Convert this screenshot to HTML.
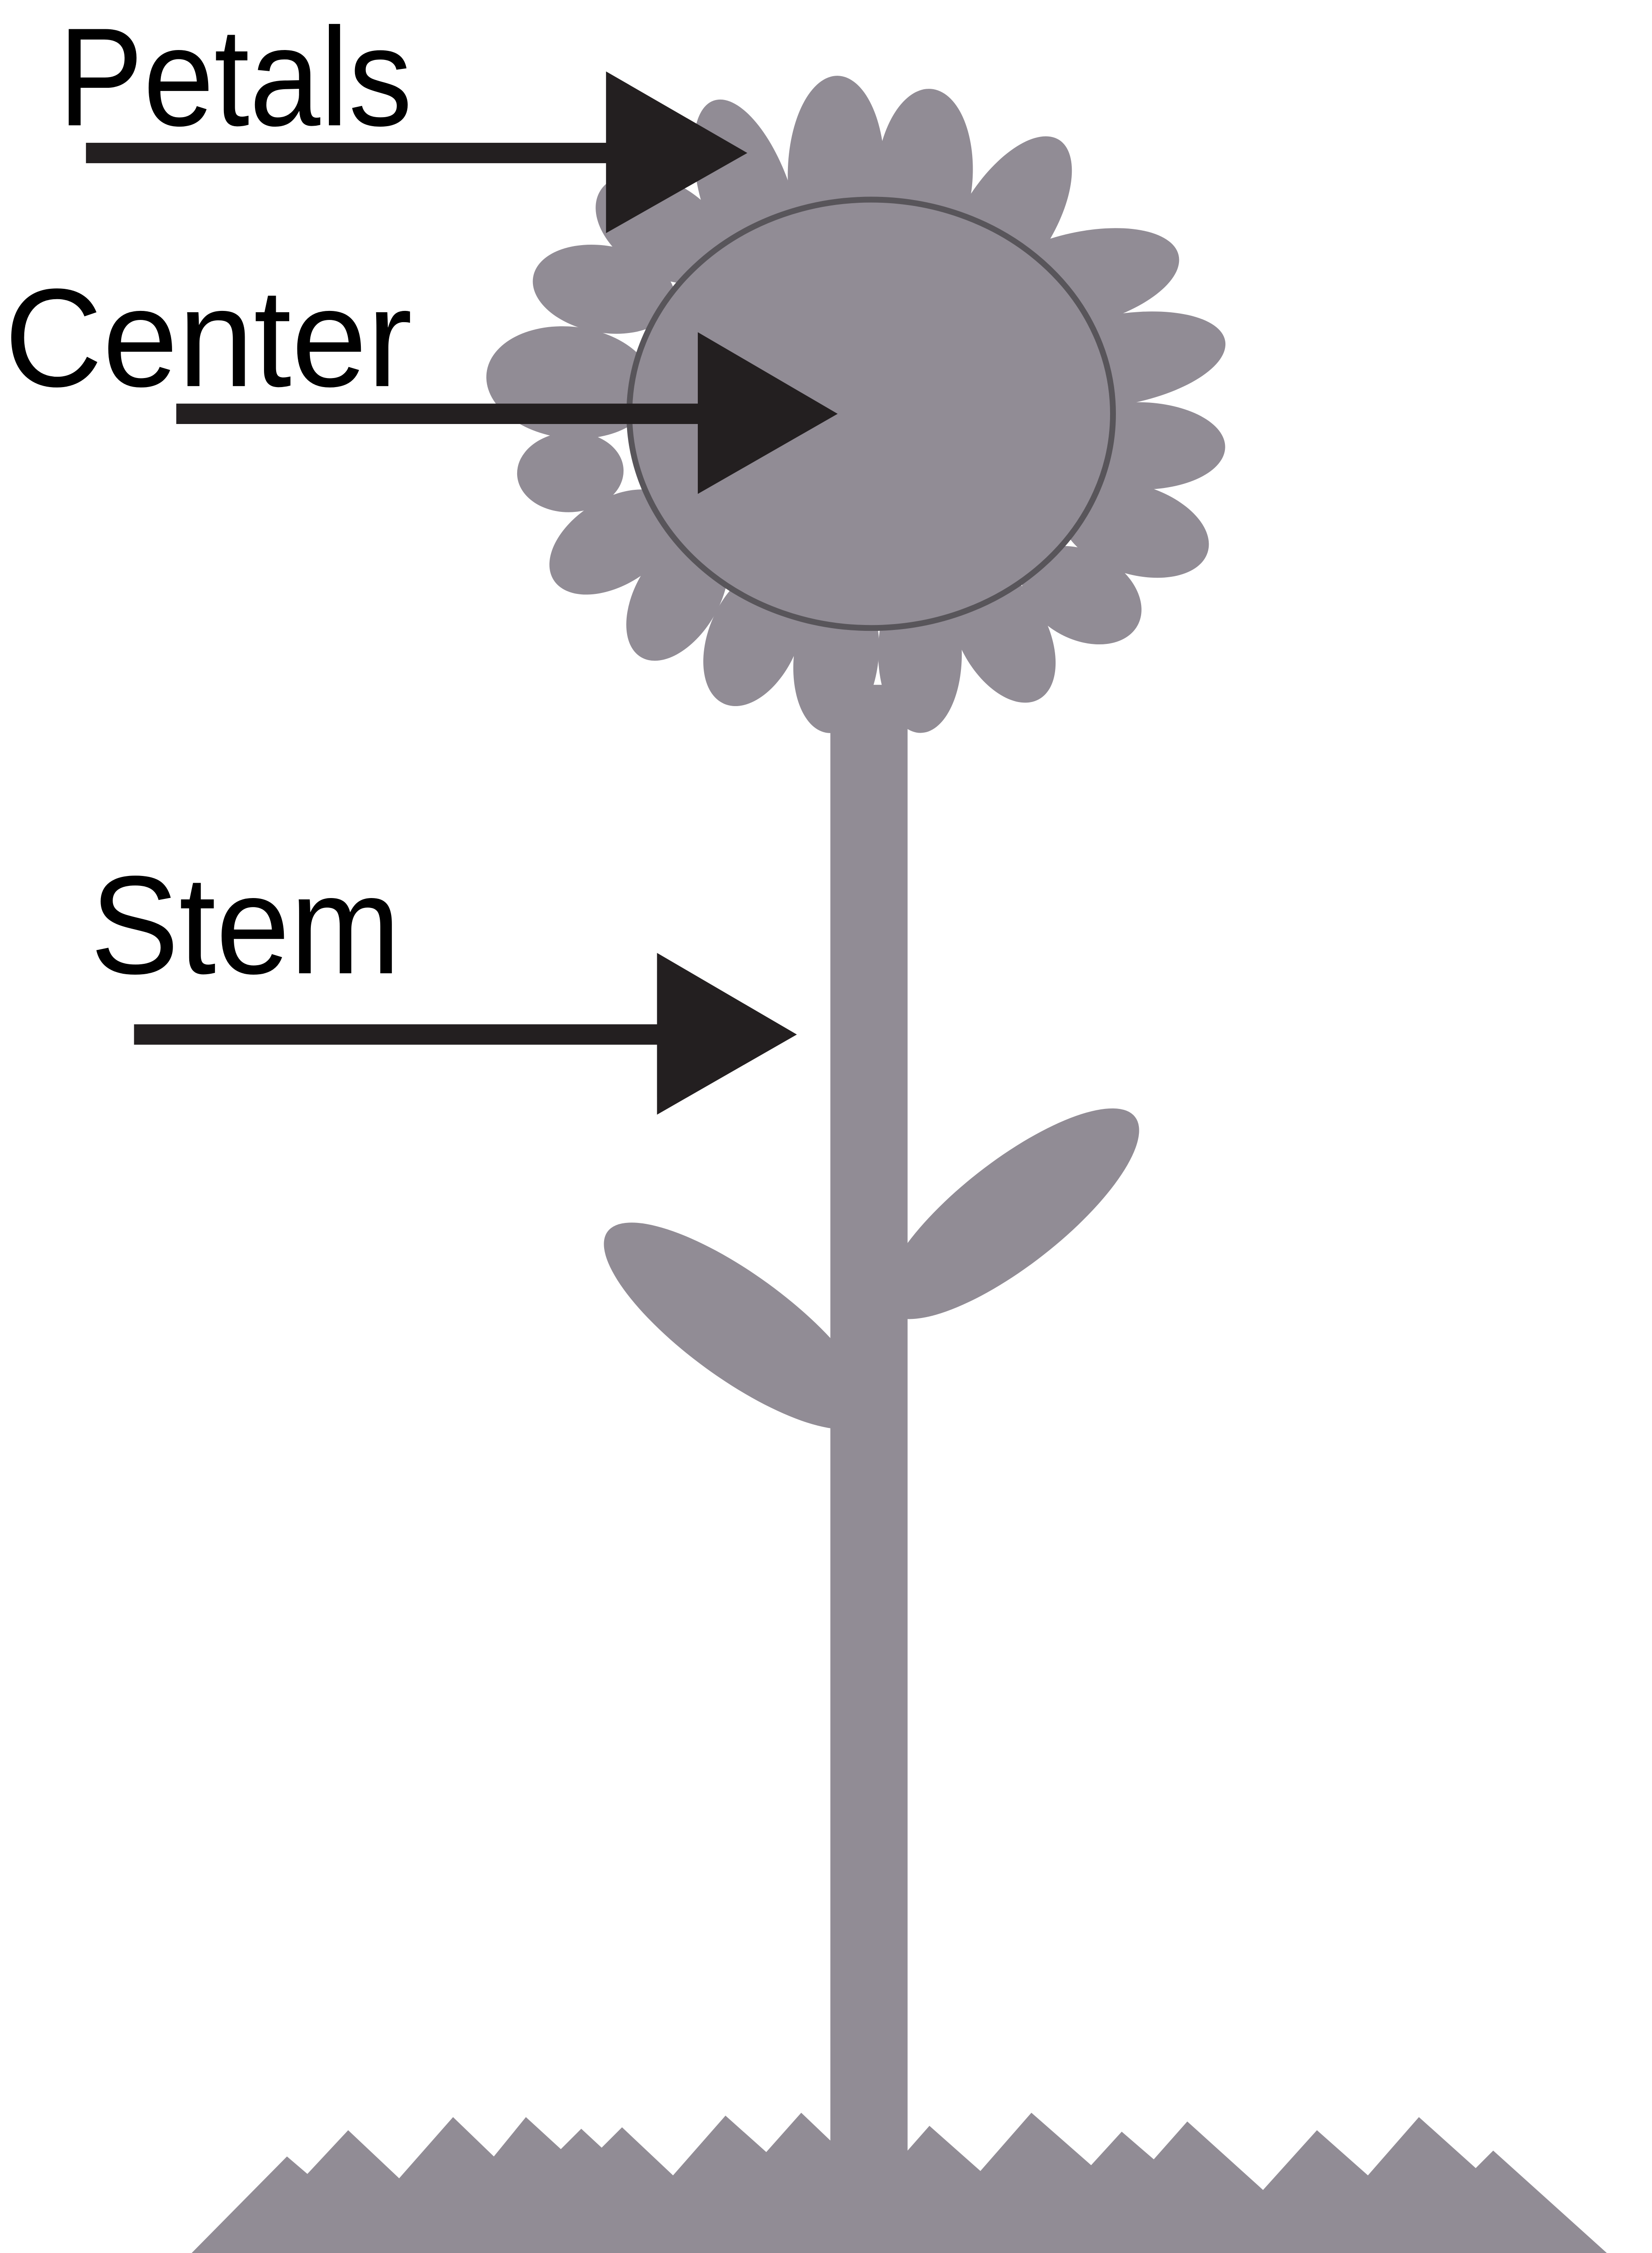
<!DOCTYPE html>
<html>
<head>
<meta charset="utf-8">
<style>
  html, body { margin: 0; padding: 0; background: #ffffff; }
  body { width: 3667px; height: 5111px; overflow: hidden; }
  svg { display: block; overflow: hidden; }
  text { font-family: "Liberation Sans", "DejaVu Sans", sans-serif; fill: #000; }
</style>
</head>
<body>
<svg width="3667" height="5111" viewBox="0 0 1134 1580.6" preserveAspectRatio="none" xmlns="http://www.w3.org/2000/svg">
  <g fill="#918c95" id="petals"></g>
  <rect x="570" y="470" width="53" height="1040" fill="#918c95"/>
  <ellipse cx="694" cy="833" rx="108" ry="36" transform="rotate(-38 694 833)" fill="#918c95"/>
  <ellipse cx="506" cy="910" rx="110" ry="36" transform="rotate(36 506 910)" fill="#918c95"/>
  <ellipse cx="598" cy="284" rx="166" ry="147" fill="#918c95" stroke="#58555a" stroke-width="4"/>
  <polygon fill="#918c95" points="120,1558 197,1480 211,1492 239,1462 274,1495 311,1453 339,1480 361,1453 385,1475 399,1461 413,1474 427,1460 462,1493 498,1452 526,1477 550,1450 572,1471 600,1500 623,1476 638,1459 673,1490 708,1450 749,1486 770,1463 792,1482 815,1456 867,1503 904,1462 939,1493 974,1453 1013,1488 1025,1476 1126,1567 975,1556 150,1556"/>

  <g fill="#231f20">
    <rect x="59" y="98" width="360" height="14"/>
    <polygon points="416,49 513,105 416,160"/>
  </g>
  <g fill="#231f20">
    <rect x="121" y="277" width="360" height="14"/>
    <polygon points="479,228 575,284 479,339"/>
  </g>
  <g fill="#231f20">
    <rect x="92" y="703" width="362" height="14"/>
    <polygon points="451,654 547,710 451,765"/>
  </g>

  <text x="40" y="86" font-size="96" textLength="243" lengthAdjust="spacingAndGlyphs">Petals</text>
  <text x="3" y="265" font-size="96" textLength="280" lengthAdjust="spacingAndGlyphs">Center</text>
  <text x="62" y="668" font-size="96" textLength="213" lengthAdjust="spacingAndGlyphs">Stem</text>
</svg>
<script>
  var petalTipX = [490, 575, 639, 727, 809, 841, 841, 829, 781, 713, 632, 568, 497, 440, 380, 355, 334, 366, 412];
  var petalTipY = [69, 52, 61, 96, 175, 234, 307, 379, 429, 480, 503, 503, 483, 451, 398, 326, 256, 190, 131];
  var baseX = [483, 543, 605, 664, 719, 759, 775, 790, 768, 717, 660, 603, 545, 490, 440, 403, 380, 403, 426];
  var baseY = [143, 131, 107, 137, 167, 217, 277, 335, 392, 425, 445, 452, 450, 423, 395, 349, 299, 226, 171];

  var petalG = document.getElementById('petals');
  var n = petalTipX.length;
  for (var i = 0; i < n; i++) {
    var j = (i + 1) % n;
    var mx = (baseX[i] + baseX[j]) / 2, my = (baseY[i] + baseY[j]) / 2;
    var dx = petalTipX[i] - mx, dy = petalTipY[i] - my;
    var L = Math.sqrt(dx * dx + dy * dy);
    var w = Math.sqrt(Math.pow(baseX[j] - baseX[i], 2) + Math.pow(baseY[j] - baseY[i], 2));
    var ang = Math.atan2(dy, dx) * 180 / Math.PI;
    var e = document.createElementNS('http://www.w3.org/2000/svg', 'ellipse');
    e.setAttribute('cx', mx);
    e.setAttribute('cy', my);
    e.setAttribute('rx', L);
    e.setAttribute('ry', Math.max(w * 0.5, 24));
    e.setAttribute('transform', 'rotate(' + ang + ' ' + mx + ' ' + my + ')');
    
    
    petalG.appendChild(e);
  }
</script>
</body>
</html>
